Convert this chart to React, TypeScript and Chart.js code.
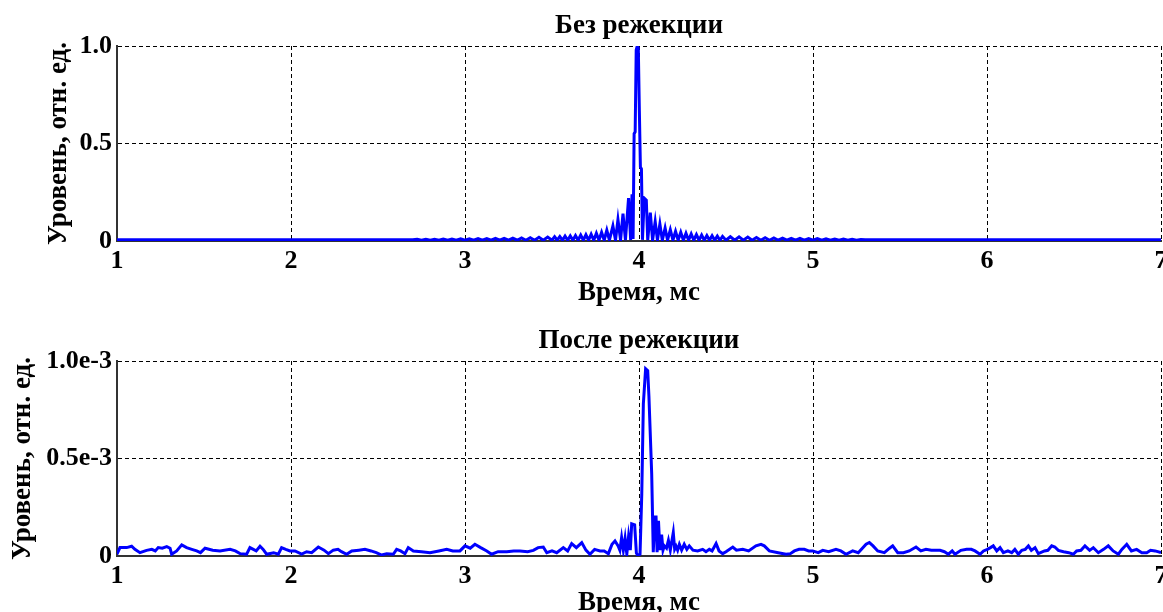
import React, { useEffect, useRef } from 'react';
import { Chart, registerables } from 'chart.js';

Chart.register(...registerables);

const FONT = '"Liberation Serif", "Times New Roman", serif';

// ---------- axis tick labels ----------
const xTickLabels = ['1', '2', '3', '4', '5', '6', '7'];
const yTickLabelsTop = ['0', '0.5', '1.0'];
const yTickLabelsBottom = ['0', '0.5e-3', '1.0e-3'];

// ---------- top panel: "Без режекции" (time, ms / level, rel. units) ----------
const topTimeMs = [
  1.0, 2.7, 2.725, 2.75, 2.775, 2.8, 2.825, 2.85, 2.875, 2.9,
  2.925, 2.95, 2.975, 3.0, 3.025, 3.05, 3.075, 3.1, 3.125, 3.15,
  3.175, 3.2, 3.225, 3.25, 3.275, 3.3, 3.325, 3.35, 3.375, 3.4,
  3.425, 3.45, 3.475, 3.5, 3.515, 3.53, 3.545, 3.56, 3.575, 3.59,
  3.605, 3.62, 3.635, 3.65, 3.665, 3.68, 3.695, 3.71, 3.725, 3.74,
  3.755, 3.77, 3.785, 3.8, 3.815, 3.83, 3.85, 3.865, 3.879, 3.894,
  3.908, 3.922, 3.94, 3.952, 3.96, 3.966, 3.972, 3.978, 3.984, 3.99,
  3.996, 4.002, 4.008, 4.014, 4.02, 4.03, 4.042, 4.05, 4.065, 4.078,
  4.093, 4.106, 4.12, 4.134, 4.15, 4.164, 4.18, 4.195, 4.21, 4.225,
  4.24, 4.255, 4.27, 4.285, 4.3, 4.315, 4.33, 4.345, 4.36, 4.375,
  4.39, 4.405, 4.42, 4.435, 4.45, 4.465, 4.48, 4.5, 4.525, 4.55,
  4.575, 4.6, 4.625, 4.65, 4.675, 4.7, 4.725, 4.75, 4.775, 4.8,
  4.825, 4.85, 4.875, 4.9, 4.925, 4.95, 4.975, 5.0, 5.025, 5.05,
  5.075, 5.1, 5.125, 5.15, 5.175, 5.2, 5.225, 5.25, 5.275, 5.3,
  7.0,
];
const topLevel = [
  0.006, 0.006, 0.009, 0.004, 0.009, 0.004, 0.009, 0.004, 0.01, 0.004,
  0.01, 0.004, 0.011, 0.004, 0.011, 0.004, 0.012, 0.004, 0.012, 0.004,
  0.013, 0.004, 0.014, 0.004, 0.015, 0.004, 0.016, 0.004, 0.017, 0.004,
  0.019, 0.004, 0.02, 0.004, 0.022, 0.004, 0.023, 0.004, 0.025, 0.004,
  0.026, 0.004, 0.028, 0.004, 0.03, 0.004, 0.032, 0.004, 0.035, 0.004,
  0.04, 0.004, 0.045, 0.004, 0.055, 0.004, 0.077, 0.004, 0.11, 0.004,
  0.14, 0.005, 0.22, 0.006, 0.24, 0.01, 0.55, 0.56, 0.98, 1.0,
  0.99, 0.67, 0.38, 0.37, 0.006, 0.22, 0.21, 0.005, 0.145, 0.004,
  0.1, 0.004, 0.087, 0.004, 0.067, 0.004, 0.058, 0.004, 0.05, 0.004,
  0.045, 0.004, 0.04, 0.004, 0.036, 0.004, 0.033, 0.004, 0.03, 0.004,
  0.028, 0.004, 0.027, 0.004, 0.025, 0.004, 0.024, 0.004, 0.022, 0.004,
  0.021, 0.004, 0.02, 0.004, 0.018, 0.004, 0.017, 0.004, 0.016, 0.004,
  0.015, 0.004, 0.014, 0.004, 0.013, 0.004, 0.012, 0.004, 0.012, 0.004,
  0.011, 0.004, 0.01, 0.004, 0.01, 0.004, 0.009, 0.004, 0.008, 0.006,
  0.006,
];

// ---------- bottom panel: "После режекции" (time, ms / level in units of 1e-3) ----------
const bottomTimeMs = [
  1.0, 1.017, 1.056, 1.084, 1.103, 1.132, 1.17, 1.2, 1.22, 1.237,
  1.26, 1.286, 1.305, 1.314, 1.343, 1.372, 1.4, 1.43, 1.458, 1.48,
  1.506, 1.55, 1.592, 1.65, 1.68, 1.707, 1.745, 1.764, 1.8, 1.822,
  1.84, 1.86, 1.9, 1.927, 1.946, 1.97, 1.994, 2.023, 2.061, 2.09,
  2.119, 2.157, 2.19, 2.215, 2.243, 2.27, 2.29, 2.32, 2.349, 2.39,
  2.425, 2.46, 2.49, 2.521, 2.55, 2.588, 2.607, 2.63, 2.655, 2.674,
  2.703, 2.75, 2.799, 2.85, 2.895, 2.93, 2.971, 3.0, 3.03, 3.057,
  3.09, 3.125, 3.153, 3.19, 3.24, 3.28, 3.316, 3.36, 3.393, 3.42,
  3.45, 3.47, 3.5, 3.527, 3.565, 3.59, 3.613, 3.64, 3.671, 3.695,
  3.718, 3.745, 3.776, 3.8, 3.824, 3.845, 3.862, 3.88, 3.89, 3.9,
  3.91, 3.92, 3.93, 3.94, 3.95, 3.958, 3.975, 3.985, 3.995, 4.006,
  4.016, 4.025, 4.038, 4.05, 4.057, 4.073, 4.082, 4.09, 4.098, 4.104,
  4.112, 4.12, 4.13, 4.138, 4.146, 4.158, 4.169, 4.18, 4.197, 4.205,
  4.213, 4.222, 4.232, 4.245, 4.26, 4.275, 4.289, 4.31, 4.337, 4.366,
  4.385, 4.404, 4.42, 4.443, 4.46, 4.481, 4.5, 4.539, 4.56, 4.596,
  4.63, 4.672, 4.701, 4.72, 4.749, 4.8, 4.845, 4.87, 4.893, 4.92,
  4.95, 4.975, 4.998, 5.03, 5.056, 5.09, 5.132, 5.16, 5.19, 5.228,
  5.26, 5.305, 5.324, 5.345, 5.372, 5.41, 5.44, 5.458, 5.487, 5.52,
  5.553, 5.592, 5.62, 5.649, 5.68, 5.707, 5.73, 5.755, 5.778, 5.8,
  5.816, 5.85, 5.883, 5.91, 5.931, 5.96, 5.98, 6.002, 6.02, 6.036,
  6.056, 6.075, 6.094, 6.12, 6.142, 6.16, 6.18, 6.2, 6.22, 6.238,
  6.255, 6.276, 6.295, 6.33, 6.35, 6.372, 6.39, 6.41, 6.44, 6.47,
  6.496, 6.515, 6.54, 6.563, 6.59, 6.611, 6.64, 6.67, 6.697, 6.725,
  6.755, 6.775, 6.803, 6.83, 6.86, 6.89, 6.918, 6.94, 6.966, 7.0,
];
const bottomLevelE3 = [
  0.009, 0.043, 0.043, 0.05, 0.034, 0.017, 0.029, 0.034, 0.026, 0.043,
  0.04, 0.048, 0.04, 0.009, 0.026, 0.057, 0.043, 0.034, 0.026, 0.017,
  0.04, 0.03, 0.026, 0.034, 0.026, 0.012, 0.009, 0.043, 0.026, 0.05,
  0.034, 0.009, 0.017, 0.009, 0.043, 0.034, 0.026, 0.026, 0.01, 0.022,
  0.017, 0.046, 0.03, 0.012, 0.03, 0.034, 0.022, 0.009, 0.026, 0.03,
  0.034, 0.026, 0.017, 0.005, 0.012, 0.009, 0.034, 0.026, 0.012, 0.043,
  0.026, 0.022, 0.017, 0.026, 0.034, 0.026, 0.026, 0.052, 0.04, 0.06,
  0.043, 0.026, 0.009, 0.022, 0.022, 0.026, 0.026, 0.022, 0.029, 0.043,
  0.046, 0.017, 0.026, 0.017, 0.043, 0.026, 0.064, 0.043, 0.069, 0.03,
  0.009, 0.034, 0.026, 0.026, 0.012, 0.06, 0.077, 0.052, 0.03, 0.094,
  0.03, 0.09, 0.01, 0.1, 0.03, 0.165, 0.16, 0.015, 0.0, 0.01,
  0.32, 0.78, 0.96, 0.95, 0.82, 0.42, 0.02, 0.2, 0.2, 0.02,
  0.18, 0.03, 0.11, 0.03, 0.052, 0.04, 0.08, 0.03, 0.12, 0.035,
  0.05, 0.03, 0.06, 0.03, 0.06, 0.034, 0.052, 0.03, 0.026, 0.034,
  0.022, 0.034, 0.026, 0.064, 0.026, 0.012, 0.022, 0.046, 0.03, 0.034,
  0.026, 0.052, 0.06, 0.052, 0.026, 0.017, 0.009, 0.012, 0.026, 0.034,
  0.034, 0.026, 0.026, 0.017, 0.029, 0.022, 0.034, 0.026, 0.009, 0.026,
  0.017, 0.06, 0.069, 0.052, 0.026, 0.017, 0.04, 0.052, 0.017, 0.017,
  0.026, 0.046, 0.026, 0.034, 0.029, 0.029, 0.029, 0.022, 0.009, 0.026,
  0.009, 0.029, 0.034, 0.034, 0.026, 0.009, 0.026, 0.034, 0.043, 0.052,
  0.026, 0.043, 0.017, 0.026, 0.017, 0.034, 0.009, 0.029, 0.034, 0.052,
  0.029, 0.043, 0.012, 0.026, 0.029, 0.052, 0.046, 0.029, 0.022, 0.017,
  0.009, 0.026, 0.029, 0.052, 0.029, 0.043, 0.017, 0.034, 0.052, 0.026,
  0.009, 0.034, 0.06, 0.026, 0.034, 0.017, 0.017, 0.029, 0.026, 0.017,
];

const CANVAS_W = 1163;
const CANVAS_H = 315;

type PanelProps = {
  time: number[];
  level: number[];
  title: string;
  yTicks: string[];
  yTitlePad: number;
  xTitlePad: number;
  top: number;
};

function Panel({ time, level, title, yTicks, yTitlePad, xTitlePad, top }: PanelProps) {
  const ref = useRef<HTMLCanvasElement | null>(null);

  useEffect(() => {
    const canvas = ref.current;
    if (!canvas) return;
    const points = time.map((t, i) => ({ x: t, y: level[i] }));
    const labelFont = { family: FONT, size: 27, weight: 'bold' as const };
    const tickFont = { family: FONT, size: 26, weight: 'bold' as const };
    const gridCfg = { color: '#000', lineWidth: 1, drawTicks: false };
    const borderCfg = { color: '#333', width: 2, dash: [4, 3] };

    const chart = new Chart(canvas, {
      type: 'line',
      data: {
        datasets: [
          {
            data: points,
            borderColor: '#0000ff',
            borderWidth: 3,
            pointRadius: 0,
            tension: 0,
            fill: false,
          },
        ],
      },
      options: {
        animation: false,
        responsive: false,
        events: [],
        layout: { padding: { left: 0, right: 2, top: 0, bottom: 0 } },
        plugins: {
          legend: { display: false },
          tooltip: { enabled: false },
          title: {
            display: true,
            text: title,
            color: '#000',
            fullSize: false,
            font: labelFont,
            padding: { top: 10, bottom: 3.6 },
          },
        },
        scales: {
          x: {
            type: 'linear',
            min: 1,
            max: 7,
            ticks: {
              stepSize: 1,
              color: '#000',
              font: tickFont,
              padding: 5,
              maxRotation: 0,
              autoSkip: false,
              callback: (_v: any, i: number) => xTickLabels[i],
            },
            grid: gridCfg,
            border: borderCfg,
            title: {
              display: true,
              text: 'Время, мс',
              color: '#000',
              font: labelFont,
              padding: { top: 0, bottom: xTitlePad },
            },
            afterFit: (s: any) => {
              s.height = CANVAS_H - 241;
              s.paddingLeft = 0;
              s.paddingRight = 0;
            },
          },
          y: {
            type: 'linear',
            min: 0,
            max: 1,
            ticks: {
              stepSize: 0.5,
              color: '#000',
              font: tickFont,
              padding: 5,
              callback: (_v: any, i: number) => yTicks[i],
            },
            grid: gridCfg,
            border: borderCfg,
            title: {
              display: true,
              text: 'Уровень, отн. ед.',
              color: '#000',
              font: labelFont,
              padding: { top: yTitlePad, bottom: 0 },
            },
            afterFit: (s: any) => {
              s.width = 117;
              s.paddingTop = 0;
              s.paddingBottom = 0;
            },
          },
        },
      },
    } as any);

    return () => chart.destroy();
  }, [time, level, title, yTicks, yTitlePad, xTitlePad]);

  return (
    <canvas
      ref={ref}
      width={CANVAS_W}
      height={CANVAS_H}
      style={{ position: 'absolute', left: 0, top, width: CANVAS_W, height: CANVAS_H, display: 'block' }}
    />
  );
}

export default function App() {
  return (
    <div
      style={{
        position: 'fixed',
        left: 0,
        top: 0,
        width: CANVAS_W,
        height: 612,
        overflow: 'hidden',
        background: '#fff',
      }}
    >
      <Panel
        time={topTimeMs}
        level={topLevel}
        title="Без режекции"
        yTicks={yTickLabelsTop}
        yTitlePad={43}
        xTitlePad={6}
        top={0}
      />
      <Panel
        time={bottomTimeMs}
        level={bottomLevelE3}
        title="После режекции"
        yTicks={yTickLabelsBottom}
        yTitlePad={7}
        xTitlePad={11}
        top={315}
      />
    </div>
  );
}
